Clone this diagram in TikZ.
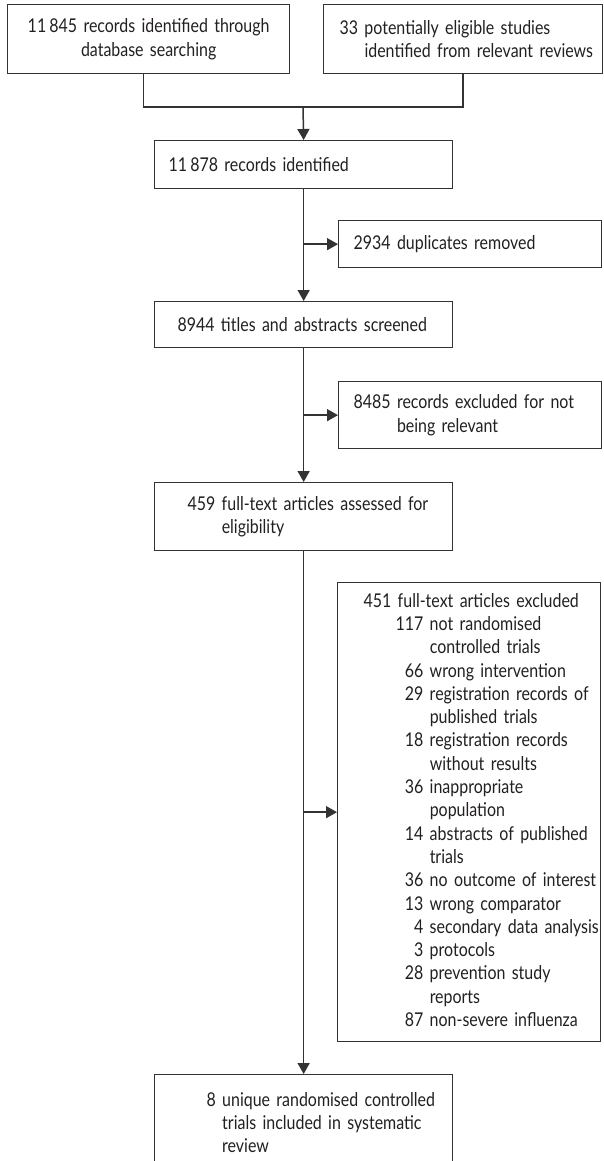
\documentclass[tikz,border=0pt]{standalone}
\usepackage{fontspec}
\setmainfont[FakeStretch=0.84]{Lato}
\usepackage{tikz}
\usetikzlibrary{arrows.meta}
\usetikzlibrary{calc}

\definecolor{inkgray}{HTML}{231F20}
\definecolor{linegray}{HTML}{333333}

\tikzset{
  box/.style={draw=linegray, line width=1.3pt, anchor=north west, inner sep=0pt,
    align=left, text=inkgray, font=\fontsize{19}{23.3}\selectfont},
  boxsize/.style 2 args={minimum width=#1pt, text width=#1pt, minimum height=#2pt},
  flow/.style={draw=linegray, line width=1.5pt},
  flowarrow/.style={flow, -{Triangle[length=11pt,width=12pt]}}
}
\newcommand{\padleft}[1]{\hspace*{#1pt}}

\begin{document}
\begin{tikzpicture}[x=1pt,y=-1pt]
\useasboundingbox (0,0) rectangle (603,1161);
\clip (0,0) rectangle (603,1161);

% identification
\node[box, boxsize={282}{69}, align=center] (search) at (7,4)
  {11\,845 records identified through\\database searching};
\node[box, boxsize={279}{69}] (reviews) at (323,4)
  {\padleft{16}33 potentially eligible studies\\\padleft{16}\phantom{33 }identified from relevant reviews};
\node[box, boxsize={298}{48}] (ident) at (154,140)
  {\padleft{14}11\,878 records identified};
\node[box, boxsize={263}{47}] (dupl) at (338,220)
  {\padleft{15}2934 duplicates removed};

% screening
\node[box, boxsize={298}{46}] (screen) at (154,301)
  {\padleft{23}8944 titles and abstracts screened};
\node[box, boxsize={263}{67}] (notrel) at (338,381)
  {\padleft{15}8485 records excluded for not\\\padleft{15}\phantom{8485 }being relevant};

% eligibility
\node[box, boxsize={298}{68}] (full) at (154,482)
  {\padleft{33}459 full-text articles assessed for\\\padleft{33}\phantom{459 }eligibility};
\node[box, boxsize={263}{459}] (excl) at (337,582)
  {\padleft{26}\begin{tabular}{@{\hspace{32pt}}r@{\ }l@{}}
    \multicolumn{2}{@{}l@{}}{451 full-text articles excluded}\\
    117 & not randomised\\
        & controlled trials\\
    66 & wrong intervention\\
    29 & registration records of\\
       & published trials\\
    18 & registration records\\
       & without results\\
    36 & inappropriate\\
       & population\\
    14 & abstracts of published\\
       & trials\\
    36 & no outcome of interest\\
    13 & wrong comparator\\
    4 & secondary data analysis\\
    3 & protocols\\
    28 & prevention study\\
       & reports\\
    87 & non-severe influenza
  \end{tabular}};

% included
\node[box, boxsize={298}{96}] (incl) at (154,1074)
  {\padleft{52}8 unique randomised controlled\\\padleft{52}\phantom{8 }trials included in systematic\\\padleft{52}\phantom{8 }review};

% connectors
\coordinate (merge) at (303,107);
\draw[flow] ([xshift=-5pt]search.south) |- (merge) -| (reviews.south);
\draw[flowarrow] (merge) -- (ident.north);
\draw[flowarrow] (ident.south) -- (screen.north);
\draw[flowarrow] (ident.south |- dupl.west) -- (dupl.west);
\draw[flowarrow] (screen.south) -- (full.north);
\draw[flowarrow] (screen.south |- notrel.west) -- (notrel.west);
\draw[flowarrow] (full.south) -- (incl.north);
\draw[flowarrow] (full.south |- excl.west) -- (excl.west);
\end{tikzpicture}
\end{document}
